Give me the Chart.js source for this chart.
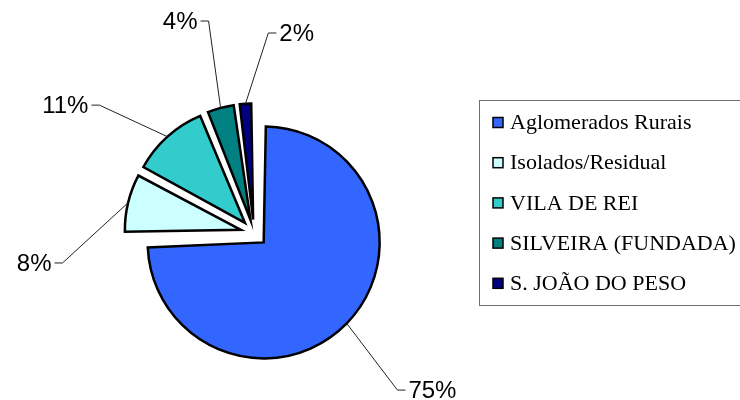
<!DOCTYPE html>
<html>
<head>
<meta charset="utf-8">
<script src="https://cdn.jsdelivr.net/npm/chart.js@4/dist/chart.umd.min.js"></script>
<style>
  html, body { margin: 0; padding: 0; background: #fff; }
  #wrap { width: 740px; height: 400px; position: relative; }
</style>
</head>
<body>
<div id="wrap"><canvas id="pie" width="740" height="400"></canvas></div>
<script>
// dados
const categorias = ['Aglomerados Rurais', 'Isolados/Residual', 'VILA DE REI', 'SILVEIRA (FUNDADA)', 'S. JOÃO DO PESO'];
const valores    = [74.6, 8.3, 10.9, 4.1, 2.1];
const cores      = ['#3366FF', '#CCFFFF', '#33CCCC', '#008080', '#000080'];

// posição dos rótulos: ângulo (graus, sentido horário a partir do topo) e distância ao centro
const rotuloAngulo = [137.6, 261.1, 309.6, 347.9, 4.1];
const rotuloDist   = [212.7, 193.8, 200.6, 216.8, 200.5];

const total = valores.reduce((a, b) => a + b, 0);
const raio = 116;
const afastamento = 13.5;   // deslocamento de cada fatia (px)
const offsets = valores.map(() => afastamento * 4);   // chart.js translada offset/4

// chart.js também aumenta o raio em (offset/4)*fix; compensar para todas as fatias terem o mesmo raio
function extraRaio(arc, i) {
  const circ = arc.endAngle - arc.startAngle;
  return offsets[i] / 4 * (1 - Math.sin(Math.min(Math.PI, circ)));
}

const raioPlugin = {
  id: 'raioIgual',
  afterDatasetUpdate(chart, args) {
    const meta = chart.getDatasetMeta(args.index);
    meta.data.forEach((arc, i) => {
      arc.outerRadius = raio - extraRaio(arc, i);
    });
  }
};

const rotulosPlugin = {
  id: 'rotulos',
  afterDatasetsDraw(chart) {
    const ctx = chart.ctx;
    const meta = chart.getDatasetMeta(0);
    ctx.save();
    ctx.font = '24px "Liberation Sans", Arial, sans-serif';
    ctx.textBaseline = 'middle';
    meta.data.forEach((arc, i) => {
      const { x, y, startAngle, endAngle } = arc;
      const mid = (startAngle + endAngle) / 2;
      const t = offsets[i] / 4;
      const cx = x + Math.cos(mid) * t, cy = y + Math.sin(mid) * t;
      const ex = cx + Math.cos(mid) * raio, ey = cy + Math.sin(mid) * raio;

      const a = (rotuloAngulo[i] - 90) * Math.PI / 180;
      const kx = x + Math.cos(a) * rotuloDist[i], ky = y + Math.sin(a) * rotuloDist[i];
      const dir = Math.cos(a) >= 0 ? 1 : -1;

      ctx.strokeStyle = '#222';
      ctx.lineWidth = 1;
      ctx.beginPath();
      ctx.moveTo(ex, ey);
      ctx.lineTo(kx, ky);
      ctx.lineTo(kx + dir * 8, ky);
      ctx.stroke();

      ctx.fillStyle = '#000';
      ctx.textAlign = dir > 0 ? 'left' : 'right';
      ctx.fillText(Math.round(valores[i] / total * 100) + '%', kx + dir * 11, ky + 1);
    });
    ctx.restore();
  }
};

const legendaPlugin = {
  id: 'legendaCaixa',
  afterDraw(chart) {
    const ctx = chart.ctx;
    ctx.save();
    ctx.strokeStyle = '#6e6e6e';
    ctx.lineWidth = 1;
    ctx.strokeRect(479.5, 100.5, 280, 205);
    ctx.font = '22px "Liberation Serif", "Times New Roman", serif';
    ctx.textBaseline = 'middle';
    ctx.textAlign = 'left';
    categorias.forEach((nome, i) => {
      const yy = 122.5 + i * 40.2;
      ctx.fillStyle = cores[i];
      ctx.fillRect(493, yy - 5, 10, 10);
      ctx.strokeStyle = '#000';
      ctx.lineWidth = 1.5;
      ctx.strokeRect(493, yy - 5, 10, 10);
      ctx.fillStyle = '#000';
      ctx.fillText(nome, 510, yy + 1);
    });
    ctx.restore();
  }
};

new Chart(document.getElementById('pie'), {
  type: 'pie',
  data: {
    labels: categorias,
    datasets: [{
      data: valores,
      backgroundColor: cores,
      borderColor: '#000',
      borderWidth: 2.5,
      borderJoinStyle: 'miter',
      offset: offsets
    }]
  },
  options: {
    responsive: false,
    animation: false,
    radius: raio,
    layout: { padding: { left: 0, right: 232, top: 66, bottom: 0 } },
    plugins: {
      legend: { display: false },
      tooltip: { enabled: false }
    }
  },
  plugins: [raioPlugin, rotulosPlugin, legendaPlugin]
});
</script>
</body>
</html>
